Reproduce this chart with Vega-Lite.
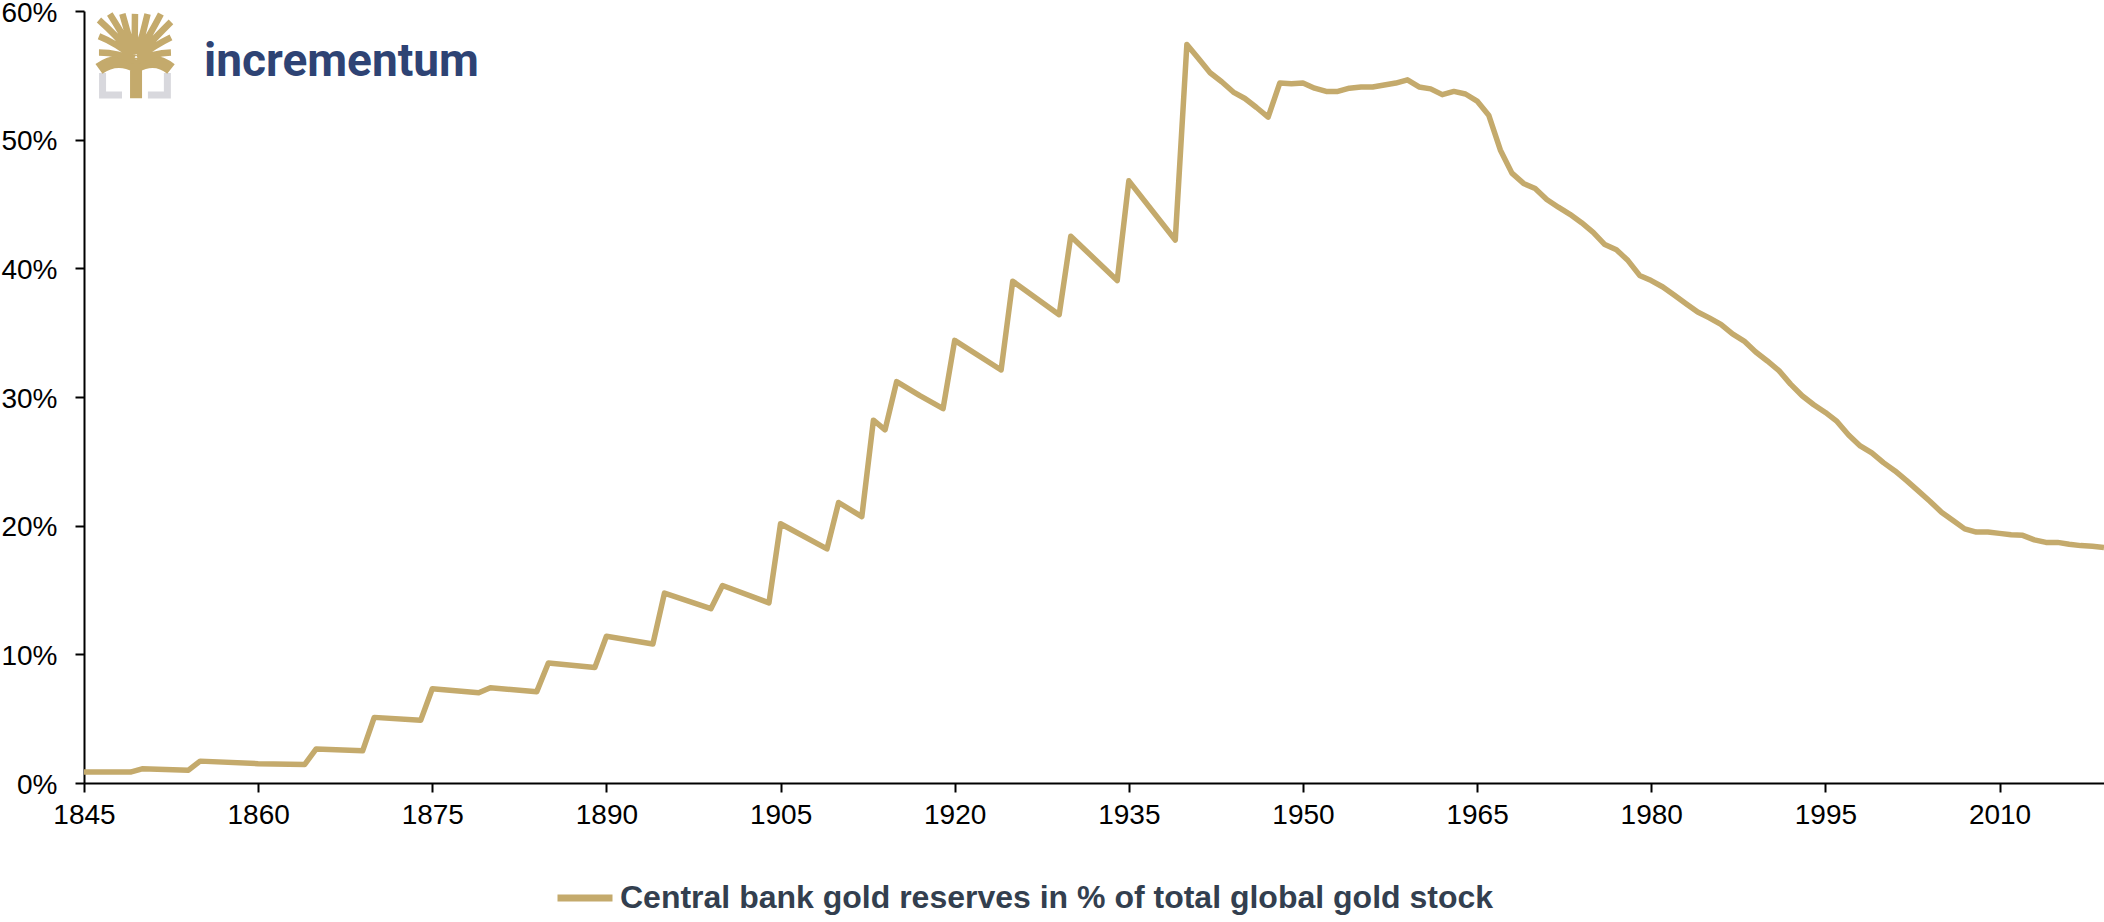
{
  "$schema": "https://vega.github.io/schema/vega-lite/v6.json",
  "width": 2020,
  "height": 772,
  "autosize": {"type": "none"},
  "padding": {"left": 84, "top": 11, "right": 0, "bottom": 139},
  "background": "white",
  "config": {
    "view": {"stroke": null},
    "font": "Liberation Sans",
    "axis": {
      "grid": false,
      "domainColor": "#000000",
      "domainWidth": 2,
      "tickColor": "#000000",
      "tickWidth": 2,
      "tickSize": 9,
      "labelColor": "#000000",
      "labelFont": "Liberation Sans",
      "labelFontSize": 28,
      "labelFlush": false,
      "labelOverlap": false,
      "title": null
    }
  },
  "data": {
    "values": [
      {"year": 1845, "share": 0.85}, {"year": 1849, "share": 0.85},
      {"year": 1850, "share": 1.1}, {"year": 1854, "share": 1.0},
      {"year": 1855, "share": 1.7}, {"year": 1860, "share": 1.5},
      {"year": 1864, "share": 1.43}, {"year": 1865, "share": 2.65},
      {"year": 1869, "share": 2.5}, {"year": 1870, "share": 5.1},
      {"year": 1874, "share": 4.87}, {"year": 1875, "share": 7.33},
      {"year": 1879, "share": 7.02}, {"year": 1880, "share": 7.4},
      {"year": 1884, "share": 7.1}, {"year": 1885, "share": 9.33},
      {"year": 1889, "share": 8.97}, {"year": 1890, "share": 11.4},
      {"year": 1894, "share": 10.8}, {"year": 1895, "share": 14.76},
      {"year": 1899, "share": 13.55}, {"year": 1900, "share": 15.35},
      {"year": 1904, "share": 14.0}, {"year": 1905, "share": 20.15},
      {"year": 1909, "share": 18.2}, {"year": 1910, "share": 21.8},
      {"year": 1912, "share": 20.7}, {"year": 1913, "share": 28.2},
      {"year": 1914, "share": 27.45}, {"year": 1915, "share": 31.2},
      {"year": 1917, "share": 30.1}, {"year": 1919, "share": 29.1},
      {"year": 1920, "share": 34.4}, {"year": 1924, "share": 32.1},
      {"year": 1925, "share": 39.0}, {"year": 1929, "share": 36.4},
      {"year": 1930, "share": 42.5}, {"year": 1934, "share": 39.05},
      {"year": 1935, "share": 46.8}, {"year": 1939, "share": 42.2},
      {"year": 1940, "share": 57.4}, {"year": 1941, "share": 56.3},
      {"year": 1942, "share": 55.2}, {"year": 1943, "share": 54.5},
      {"year": 1944, "share": 53.7}, {"year": 1945, "share": 53.2},
      {"year": 1946, "share": 52.5}, {"year": 1947, "share": 51.75},
      {"year": 1948, "share": 54.4}, {"year": 1949, "share": 54.35},
      {"year": 1950, "share": 54.4}, {"year": 1951, "share": 54.0},
      {"year": 1952, "share": 53.75}, {"year": 1953, "share": 53.75},
      {"year": 1954, "share": 54.0}, {"year": 1955, "share": 54.1},
      {"year": 1956, "share": 54.1}, {"year": 1957, "share": 54.25},
      {"year": 1958, "share": 54.4}, {"year": 1959, "share": 54.65},
      {"year": 1960, "share": 54.1}, {"year": 1961, "share": 53.95},
      {"year": 1962, "share": 53.5}, {"year": 1963, "share": 53.75},
      {"year": 1964, "share": 53.55}, {"year": 1965, "share": 53.0},
      {"year": 1966, "share": 51.9}, {"year": 1967, "share": 49.2},
      {"year": 1968, "share": 47.4}, {"year": 1969, "share": 46.6},
      {"year": 1970, "share": 46.2}, {"year": 1971, "share": 45.35},
      {"year": 1972, "share": 44.75}, {"year": 1973, "share": 44.2},
      {"year": 1974, "share": 43.55}, {"year": 1975, "share": 42.8},
      {"year": 1976, "share": 41.85}, {"year": 1977, "share": 41.45},
      {"year": 1978, "share": 40.6}, {"year": 1979, "share": 39.45},
      {"year": 1980, "share": 39.05}, {"year": 1981, "share": 38.55},
      {"year": 1982, "share": 37.9}, {"year": 1983, "share": 37.25},
      {"year": 1984, "share": 36.6}, {"year": 1985, "share": 36.15},
      {"year": 1986, "share": 35.65}, {"year": 1987, "share": 34.9},
      {"year": 1988, "share": 34.35}, {"year": 1989, "share": 33.5},
      {"year": 1990, "share": 32.8}, {"year": 1991, "share": 32.05},
      {"year": 1992, "share": 31.0}, {"year": 1993, "share": 30.1},
      {"year": 1994, "share": 29.4}, {"year": 1995, "share": 28.8},
      {"year": 1996, "share": 28.1}, {"year": 1997, "share": 27.05},
      {"year": 1998, "share": 26.2}, {"year": 1999, "share": 25.65},
      {"year": 2000, "share": 24.9}, {"year": 2001, "share": 24.25},
      {"year": 2002, "share": 23.5}, {"year": 2003, "share": 22.7},
      {"year": 2004, "share": 21.9}, {"year": 2005, "share": 21.05},
      {"year": 2006, "share": 20.4}, {"year": 2007, "share": 19.75},
      {"year": 2008, "share": 19.5}, {"year": 2009, "share": 19.5},
      {"year": 2010, "share": 19.4}, {"year": 2011, "share": 19.3},
      {"year": 2012, "share": 19.25}, {"year": 2013, "share": 18.9},
      {"year": 2014, "share": 18.7}, {"year": 2015, "share": 18.7},
      {"year": 2016, "share": 18.55}, {"year": 2017, "share": 18.45},
      {"year": 2018, "share": 18.4}, {"year": 2019, "share": 18.3}
    ]
  },
  "layer": [
    {
      "mark": {"type": "line", "strokeWidth": 5.5, "strokeJoin": "round"},
      "encoding": {
        "x": {
          "field": "year",
          "type": "quantitative",
          "scale": {"domain": [1845, 2019], "nice": false, "zero": false},
          "axis": {
            "values": [1845, 1860, 1875, 1890, 1905, 1920, 1935, 1950, 1965, 1980, 1995, 2010],
            "format": "d",
            "labelPadding": 9
          }
        },
        "y": {
          "field": "share",
          "type": "quantitative",
          "scale": {"domain": [0, 60], "nice": false},
          "axis": {
            "values": [0, 10, 20, 30, 40, 50, 60],
            "labelExpr": "datum.value + '%'",
            "labelPadding": 18,
            "labelOffset": 2
          }
        },
        "color": {
          "datum": "Central bank gold reserves in % of total global gold stock",
          "type": "nominal",
          "scale": {"range": ["#C4AA6C"]},
          "legend": {
            "title": null,
            "orient": "none",
            "legendX": 470,
            "legendY": 856,
            "padding": 0,
            "symbolType": "stroke",
            "symbolSize": 3025,
            "symbolStrokeWidth": 7,
            "labelFont": "Liberation Sans",
            "labelFontSize": 32,
            "labelFontWeight": "bold",
            "labelColor": "#333F4F",
            "labelOffset": 4,
            "labelLimit": 0
          }
        }
      }
    },
    {
      "data": {"values": [{}]},
      "mark": {
        "type": "point",
        "shape": "M -0.9 0.47 L -0.9 1.08 L -0.36 1.08 M 0.9 0.47 L 0.9 1.08 L 0.36 1.08",
        "size": 5184,
        "filled": false,
        "stroke": "#D8D8DD",
        "strokeWidth": 7,
        "opacity": 1
      },
      "encoding": {
        "x": {"datum": 1849.39, "type": "quantitative"},
        "y": {"datum": 56.5, "type": "quantitative"}
      }
    },
    {
      "data": {"values": [{}]},
      "mark": {
        "type": "point",
        "shape": "M 0.03 0.1 L 0.03 1.17 M 0.03 0.3 Q -0.5 0.0 -1 0.36 M 0.03 0.3 Q 0.55 0.0 1 0.36",
        "size": 5184,
        "filled": false,
        "stroke": "#C4AA6C",
        "strokeWidth": 12,
        "opacity": 1
      },
      "encoding": {
        "x": {"datum": 1849.39, "type": "quantitative"},
        "y": {"datum": 56.5, "type": "quantitative"}
      }
    },
    {
      "data": {"values": [{}]},
      "mark": {
        "type": "point",
        "shape": "M 0 0.14 Q -0.45 -0.1 -1 -0.1 M -0.02 0.05 Q -0.5 -0.35 -1 -0.55 M -0.04 -0.02 Q -0.55 -0.6 -1 -1.0 M -0.03 -0.05 Q -0.4 -0.7 -0.7 -1.17 M -0.01 -0.05 Q -0.2 -0.6 -0.35 -1.17 M 0.02 -0.05 Q -0.02 -0.6 0.0 -1.17 M 0.05 -0.05 Q 0.22 -0.6 0.35 -1.17 M 0.08 -0.05 Q 0.45 -0.65 0.72 -1.17 M 0.1 -0.02 Q 0.6 -0.55 1 -0.95 M 0.08 0.05 Q 0.55 -0.3 1 -0.52 M 0.06 0.14 Q 0.5 -0.08 1 -0.1",
        "size": 5184,
        "filled": false,
        "stroke": "#C4AA6C",
        "strokeWidth": 6.5,
        "opacity": 1
      },
      "encoding": {
        "x": {"datum": 1849.39, "type": "quantitative"},
        "y": {"datum": 56.5, "type": "quantitative"}
      }
    },
    {
      "data": {"values": [{}]},
      "mark": {
        "type": "text",
        "text": "incrementum",
        "align": "left",
        "baseline": "alphabetic",
        "font": "Roboto",
        "fontWeight": "bold",
        "fontSize": 46,
        "color": "#2E4374"
      },
      "encoding": {
        "x": {"datum": 1855.34, "type": "quantitative"},
        "y": {"datum": 54.95, "type": "quantitative"}
      }
    }
  ]
}
